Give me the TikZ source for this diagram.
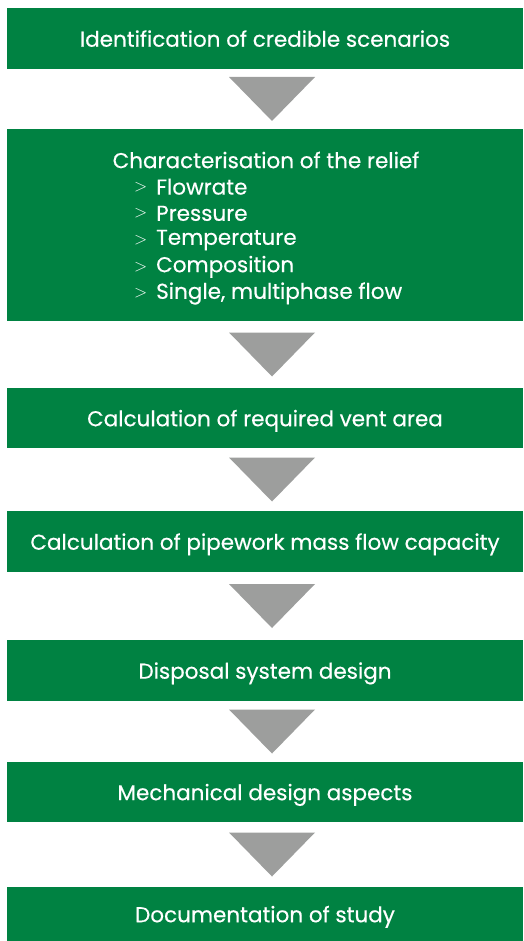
\documentclass[tikz,border=0pt]{standalone}
\usepackage{fontspec}
\setmainfont{Poppins}[UprightFeatures={FakeBold=0.4}]
\usetikzlibrary{calc}
\definecolor{boxgreen}{HTML}{008242}
\definecolor{trigray}{HTML}{9D9E9D}
\tikzset{boxfont/.style={font=\fontsize{21.5}{26.7}\selectfont}}
\begin{document}
\begin{tikzpicture}[x=1pt,y=1pt,
  stepbox/.style={fill=boxgreen, draw=none, text=white, minimum width=516pt, inner sep=0pt, boxfont, align=center, text depth=0pt},
  tri/.style={fill=trigray, draw=none}]
\useasboundingbox (0,0) rectangle (523,-941);
\node[stepbox, minimum height=61pt] (b1) at (265,-38.5) {Identification of credible scenarios};
\node[stepbox, minimum height=192pt] (b2) at (265,-225) {};
\node[text=white, boxfont, anchor=center] (b2t) at (266,-160) {Characterisation of the relief};
\foreach \t [count=\i] in {Flowrate, Pressure, Temperature, Composition, {Single, multiphase flow}} {
  \node[text=white, boxfont, anchor=west, inner sep=0pt] (it\i) at (156,{-160-26.7*\i}) {\t};
  \node[text=white, font=\fontsize{17}{20}\selectfont, anchor=west, inner sep=0pt] (gt\i) at (134,{-160-26.7*\i}) {$>$};
}
\node[stepbox, minimum height=60pt] (b3) at (265,-418) {Calculation of required vent area};
\node[stepbox, minimum height=61pt] (b4) at (265,-541.5) {Calculation of pipework mass flow capacity};
\node[stepbox, minimum height=61pt] (b5) at (265,-670.5) {Disposal system design};
\node[stepbox, minimum height=60pt] (b6) at (265,-792) {Mechanical design aspects};
\node[stepbox, minimum height=54pt] (b7) at (265,-914) {Documentation of study};
\foreach \a/\b in {b1/b2, b2/b3, b3/b4, b4/b5, b5/b6, b6/b7} {
  \path let \p1=(\a.south), \p2=(\b.north) in
    coordinate (m) at (272, {(\y1+\y2)/2});
  \fill[tri] ($(m)+(-43,22)$) -- ($(m)+(43,22)$) -- ($(m)+(0,-22)$) -- cycle;
}
\end{tikzpicture}
\end{document}
